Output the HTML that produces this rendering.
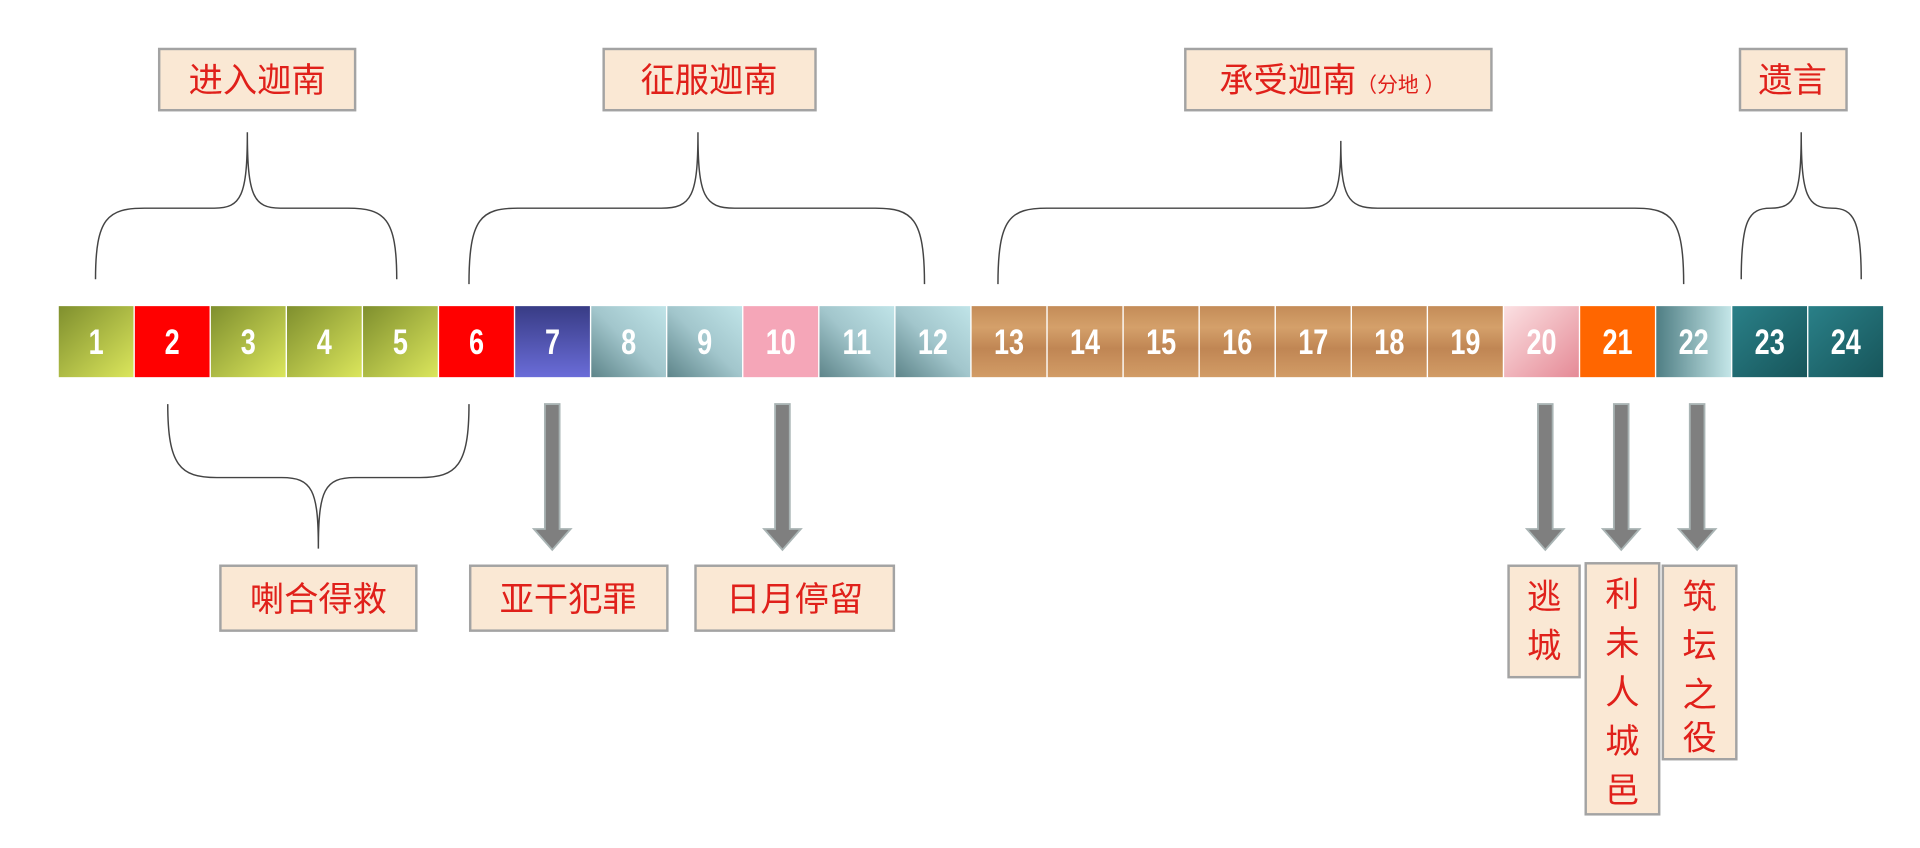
<!DOCTYPE html>
<html><head><meta charset="utf-8"><style>
html,body{margin:0;padding:0;background:#fff;width:1920px;height:848px;overflow:hidden}
svg{display:block}
.n{font-family:"Liberation Sans",sans-serif;font-weight:bold;fill:#fff;font-size:26px;text-anchor:middle}
.l{font-family:"Liberation Sans","Noto Sans CJK SC",sans-serif;fill:#e0201a;font-size:28px;text-anchor:middle}
.b{fill:#fae8d4;stroke:#a3a3a3;stroke-width:2}
.br{fill:none;stroke:#444;stroke-width:1.2}
.ar{fill:#7f7f7f;stroke:#a9b4b4;stroke-width:1.5}
</style></head><body>
<svg width="1920" height="848" viewBox="0 0 1568 692.5" preserveAspectRatio="none">
<defs>
<linearGradient id="ol" x1="0" y1="0" x2="1" y2="1"><stop offset="0" stop-color="#7f8f2e"/><stop offset="1" stop-color="#dbe65c"/></linearGradient>
<linearGradient id="bl" x1="0" y1="0" x2="0" y2="1"><stop offset="0" stop-color="#383c85"/><stop offset="1" stop-color="#6a6cd8"/></linearGradient>
<linearGradient id="tl" x1="1" y1="0" x2="0" y2="1"><stop offset="0" stop-color="#c0e4e8"/><stop offset="0.5" stop-color="#a2c6cc"/><stop offset="1" stop-color="#5e858a"/></linearGradient>
<linearGradient id="pk" x1="0" y1="0" x2="1" y2="1"><stop offset="0" stop-color="#fbe0e2"/><stop offset="1" stop-color="#e58a96"/></linearGradient>
<linearGradient id="t22" x1="0" y1="0" x2="1" y2="0"><stop offset="0" stop-color="#4f7e84"/><stop offset="1" stop-color="#c4e6e8"/></linearGradient>
<linearGradient id="dt" x1="0" y1="0" x2="1" y2="1"><stop offset="0" stop-color="#2a8088"/><stop offset="1" stop-color="#17555a"/></linearGradient>
<linearGradient id="wd" x1="0" y1="0" x2="0" y2="1"><stop offset="0" stop-color="#c48c58"/><stop offset="0.3" stop-color="#d4a06a"/><stop offset="0.6" stop-color="#c08654"/><stop offset="1" stop-color="#d29c66"/></linearGradient>
</defs>
<g id="blocks"></g>
<rect class="b" x="130" y="40" width="160" height="50"/><text class="l" x="210" y="75">进入迦南</text>
<rect class="b" x="493" y="40" width="173" height="50"/><text class="l" x="579" y="75">征服迦南</text>
<rect class="b" x="968" y="40" width="250" height="50"/><text class="l" x="1088" y="75">承受迦南<tspan font-size="17">（分地 ）</tspan></text>
<rect class="b" x="1421" y="40" width="87" height="50"/><text class="l" x="1464" y="75">遗言</text>
<path class="br" d="M78,228 C78,178 88,170 118,170 L175,170 C197,170 202,160 202,108 C202,160 207,170 229,170 L284,170 C314,170 324,178 324,228"/>
<path class="br" d="M383,232 C383,178 393,170 423,170 L540,170 C565,170 570,160 570,108 C570,160 575,170 600,170 L715,170 C745,170 755,178 755,232"/>
<path class="br" d="M815,232 C815,178 825,170 855,170 L1065,170 C1090,170 1095,160 1095,115 C1095,160 1100,170 1125,170 L1335,170 C1365,170 1375,178 1375,232"/>
<path class="br" d="M1422,228 C1422,180 1428,170 1446,170 C1466,170 1471,160 1471,108 C1471,160 1476,170 1496,170 C1514,170 1520,180 1520,228"/>
<path class="br" d="M137,330 C137,380 147,390 177,390 L230,390 C255,390 260,400 260,448 C260,400 265,390 290,390 L343,390 C373,390 383,380 383,330"/>
<g id="arrows"></g>
<rect class="b" x="180" y="462" width="160" height="53"/><text class="l" x="260" y="499">喇合得救</text>
<rect class="b" x="384" y="462" width="161" height="53"/><text class="l" x="464" y="499">亚干犯罪</text>
<rect class="b" x="568" y="462" width="162" height="53"/><text class="l" x="649" y="499">日月停留</text>
<rect class="b" x="1232" y="462" width="58" height="91"/><text class="l" x="1261" y="497">逃</text><text class="l" x="1261" y="537">城</text>
<rect class="b" x="1295" y="460" width="60" height="205"/><text class="l" x="1325" y="495">利</text><text class="l" x="1325" y="535">未</text><text class="l" x="1325" y="575">人</text><text class="l" x="1325" y="615">城</text><text class="l" x="1325" y="655">邑</text>
<rect class="b" x="1358" y="462" width="60" height="158"/><text class="l" x="1388" y="497">筑</text><text class="l" x="1388" y="537">坛</text><text class="l" x="1388" y="577">之</text><text class="l" x="1388" y="612">役</text>
</svg>
<script>
var fills=["ol","r","ol","ol","ol","r","bl","tl","tl","p","tl","tl","wd","wd","wd","wd","wd","wd","wd","pk","o","t22","dt","dt"];
var g=document.getElementById("blocks"),s="";
for(var i=0;i<24;i++){var x=48+62.125*i,f=fills[i];
var c=f=="r"?"#ff0000":f=="p"?"#f5a6b8":f=="o"?"#ff6600":"url(#"+f+")";
s+='<rect x="'+x+'" y="250" width="61" height="58" fill="'+c+'"/>';
s+='<text class="n" transform="translate('+(x+30.5)+',289) scale(0.85,1.1)">'+(i+1)+'</text>';}
g.innerHTML=s;
var ax=[451,639,1262,1324,1386],a="";
ax.forEach(function(x){a+='<path class="ar" d="M'+(x-6)+',330 L'+(x+6)+',330 L'+(x+6)+',432 L'+(x+15)+',432 L'+x+',449 L'+(x-15)+',432 L'+(x-6)+',432 Z"/>';});
document.getElementById("arrows").innerHTML=a;
</script>
</body></html>
